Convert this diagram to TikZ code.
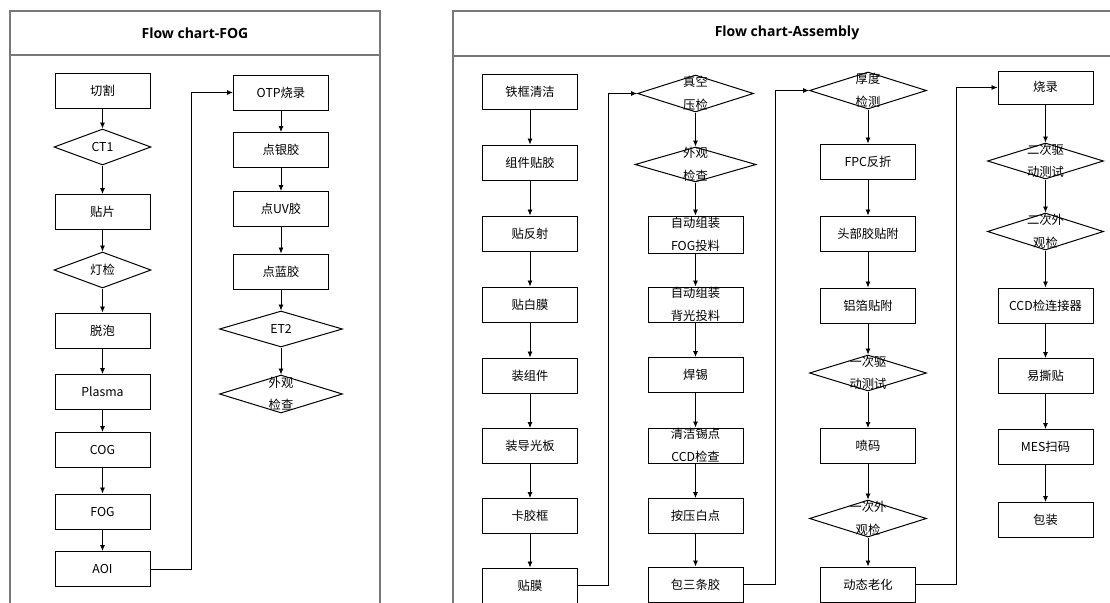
\documentclass[tikz,border=0pt]{standalone}
\usepackage{fontspec}
\setmainfont{Noto Sans CJK SC}
\newfontfamily\titlefont{Open Sans}
\usetikzlibrary{shapes.geometric,arrows.meta}
\newcommand\ntxt[1]{\makebox[0pt]{\smash{\raisebox{-3pt}{\begin{tabular}{@{}c@{}}#1\end{tabular}}}}}
\definecolor{panelgray}{RGB}{120,120,120}
\tikzset{
  box/.style={rectangle, draw=black, line width=1pt, minimum width=95pt, minimum height=35pt, inner sep=0pt, font=\fontsize{12.3}{22.5}\selectfont},
  dia/.style={diamond, draw=black, line width=1pt, inner sep=0pt, minimum width=117pt, minimum height=37pt, font=\fontsize{12.3}{22.5}\selectfont},
  arr/.style={-{Latex[length=6pt,width=5pt]}, line width=0.8pt},
  panel/.style={draw=panelgray, line width=1.3pt},
  ttl/.style={font=\titlefont\bfseries\fontsize{14}{16}\selectfont}
}
\begin{document}
\begin{tikzpicture}[x=1pt,y=-1pt]
\useasboundingbox (0,0) rectangle (1110,602);
% panels
\draw[panel] (10,615) -- (10,11) -- (380,11) -- (380,615);
\draw[panel] (10,55) -- (380,55);
\draw[panel] (453,615) -- (453,11) -- (1120,11);
\draw[panel] (453,56) -- (1120,56);
\node[ttl] (t1) at (195,33) {Flow chart-FOG};
\node[ttl] (t2) at (787,33) {Flow chart-Assembly};
% FOG column 1
\node[box] (qg) at (102.5,90.5) {\ntxt{切割}};
\node[dia, minimum width=97pt, minimum height=36pt] (ct1) at (102.5,147) {\ntxt{CT1}};
\node[box] (tp) at (102.5,212) {\ntxt{贴片}};
\node[dia, minimum width=97pt, minimum height=36pt] (dj) at (102.5,270) {\ntxt{灯检}};
\node[box] (tpa) at (102.5,330.5) {\ntxt{脱泡}};
\node[box] (pl) at (102.5,392) {\ntxt{Plasma}};
\node[box] (cog) at (102.5,450) {\ntxt{COG}};
\node[box] (fog) at (102.5,511.5) {\ntxt{FOG}};
\node[box] (aoi) at (102.5,569) {\ntxt{AOI}};
% FOG column 2
\node[box] (otp) at (281,92.5) {\ntxt{OTP烧录}};
\node[box] (dyj) at (281,150) {\ntxt{点银胶}};
\node[box] (duv) at (281,209) {\ntxt{点UV胶}};
\node[box] (dlj) at (281,271.5) {\ntxt{点蓝胶}};
\node[dia, minimum width=123pt, minimum height=36pt] (et2) at (281,329) {\ntxt{ET2}};
\node[dia, minimum width=123pt, minimum height=38pt] (wg1) at (281,394) {\ntxt{外观\\检查}};
\foreach \a/\b in {qg/ct1,ct1/tp,tp/dj,dj/tpa,tpa/pl,pl/cog,cog/fog,fog/aoi,otp/dyj,dyj/duv,duv/dlj,dlj/et2,et2/wg1}
  \draw[arr] (\a.south) -- (\b.north);
\draw[arr] (aoi.east) -- ++(41,0) |- (otp.west);
% Assembly column A
\node[box] (tkqj) at (530,92) {\ntxt{铁框清洁}};
\node[box] (zjtj) at (530,162.5) {\ntxt{组件贴胶}};
\node[box] (tfs) at (530,233.5) {\ntxt{贴反射}};
\node[box] (tbm) at (530,304.5) {\ntxt{贴白膜}};
\node[box] (zzj) at (530,375.5) {\ntxt{装组件}};
\node[box] (zdgb) at (530,446) {\ntxt{装导光板}};
\node[box] (kjk) at (530,516) {\ntxt{卡胶框}};
\node[box] (tm) at (530,585.5) {\ntxt{贴膜}};
% Assembly column B
\node[dia, minimum width=116pt, minimum height=37pt] (zkyj) at (695.5,93.5) {\ntxt{真空\\压检}};
\node[dia, minimum width=121pt, minimum height=35pt] (wg2) at (695.5,164.5) {\ntxt{外观\\检查}};
\node[box, minimum height=37pt] (zdfog) at (695.5,234.5) {\ntxt{自动组装\\FOG投料}};
\node[box] (zdbg) at (695.5,304.5) {\ntxt{自动组装\\背光投料}};
\node[box] (hx) at (695.5,375) {\ntxt{焊锡}};
\node[box] (qjxd) at (695.5,445.5) {\ntxt{清洁锡点\\CCD检查}};
\node[box] (ayd) at (695.5,516) {\ntxt{按压白点}};
\node[box] (bstj) at (695.5,584.5) {\ntxt{包三条胶}};
% Assembly column C
\node[dia, minimum width=117pt, minimum height=37pt] (hdjc) at (868,90.5) {\ntxt{厚度\\检测}};
\node[box] (fpc) at (868,161.5) {\ntxt{FPC反折}};
\node[box] (tbj) at (868,233.5) {\ntxt{头部胶贴附}};
\node[box] (lbt) at (868,305.5) {\ntxt{铝箔贴附}};
\node[dia, minimum width=117pt, minimum height=36pt] (ycqd) at (868,373) {\ntxt{一次驱\\动测试}};
\node[box] (pm) at (868,446) {\ntxt{喷码}};
\node[dia, minimum width=117pt, minimum height=37pt] (ycwg) at (868,518.5) {\ntxt{一次外\\观检}};
\node[box] (dtlh) at (868,584.5) {\ntxt{动态老化}};
% Assembly column D
\node[box, minimum height=33pt] (sl) at (1045.5,87.5) {\ntxt{烧录}};
\node[dia, minimum width=116pt, minimum height=36pt] (ecqd) at (1045.5,161) {\ntxt{二次驱\\动测试}};
\node[dia, minimum width=116pt, minimum height=37pt] (ecwg) at (1045.5,231.5) {\ntxt{二次外\\观检}};
\node[box] (ccd) at (1045.5,305.5) {\ntxt{CCD检连接器}};
\node[box] (yst) at (1045.5,376) {\ntxt{易撕贴}};
\node[box] (mes) at (1045.5,447) {\ntxt{MES扫码}};
\node[box] (bz) at (1045.5,520) {\ntxt{包装}};
\foreach \a/\b in {tkqj/zjtj,zjtj/tfs,tfs/tbm,tbm/zzj,zzj/zdgb,zdgb/kjk,kjk/tm,
  zkyj/wg2,wg2/zdfog,zdfog/zdbg,zdbg/hx,hx/qjxd,qjxd/ayd,ayd/bstj,
  hdjc/fpc,fpc/tbj,tbj/lbt,lbt/ycqd,ycqd/pm,pm/ycwg,ycwg/dtlh,
  sl/ecqd,ecqd/ecwg,ecwg/ccd,ccd/yst,yst/mes,mes/bz}
  \draw[arr] (\a.south) -- (\b.north);
\draw[arr] (tm.east) -- ++(30,0) |- (zkyj.west);
\draw[arr] (bstj.east) -- ++(32,0) |- (hdjc.west);
\draw[arr] (dtlh.east) -- ++(40,0) |- (sl.west);
\end{tikzpicture}
\end{document}
